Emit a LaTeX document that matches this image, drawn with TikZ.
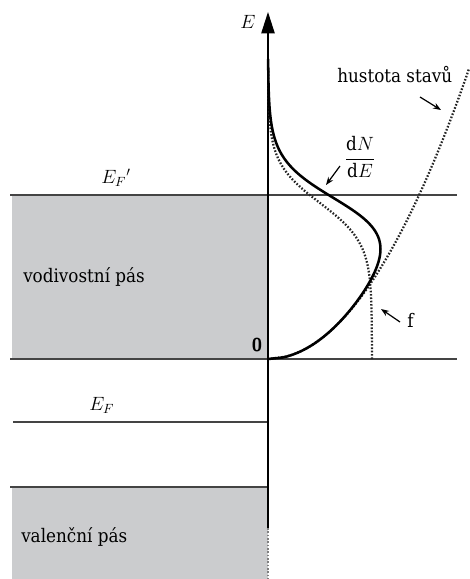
\documentclass[tikz,border=0pt]{standalone}
\usepackage{fontspec}
\setmainfont{DejaVu Serif Condensed}
\usepackage{amsmath}
\usetikzlibrary{arrows.meta}

\definecolor{bandgray}{HTML}{CBCCCE}
\definecolor{linegray}{HTML}{444444}

\begin{document}
\begin{tikzpicture}[x=0.75pt, y=-0.75pt,
  band/.style={fill=bandgray, draw=none},
  level/.style={draw=linegray, line width=1.5pt},
  axis/.style={draw=black, line width=1pt},
  curve/.style={line width=1.9pt, black},
  dots/.style={line width=1.7pt, dash pattern=on 1.2pt off 1.3pt, black!85},
  pointer/.style={-{Stealth[length=6pt,width=4.5pt]}, line width=0.9pt},
  lbl/.style={font=\fontsize{14}{16}\selectfont, inner sep=0pt}
]
  \useasboundingbox (0,0) rectangle (469,579);

  % bands
  \fill[band] (12,195) rectangle (268,359);
  \fill[band] (12,487) rectangle (268,579);

  % levels
  \draw[level] (10,195) -- (457,195);
  \draw[level] (10,359) -- (457,359);
  \draw[level] (13,422) -- (268,422);
  \draw[level] (10,487) -- (268,487);

  % energy axis
  \coordinate (axbot) at (268,528);
  \coordinate (axend) at (268,579);
  \coordinate (axtop) at (268,12);
  \draw[axis, -{Triangle[length=16pt,width=10pt]}] (axbot) -- (axtop);
  \draw[dots, line width=0.8pt, gray] (axbot) -- (axend);

  % density of states, Fermi function, dN/dE
  \draw[dots] plot[domain=0:290, samples=120] ({268+11.8*sqrt(\x)}, {359-\x});
  \draw[dots] plot[domain=0:290, samples=120] ({268+104/(1+exp((\x-156)/20))}, {359-\x});
  \draw[curve] plot[domain=0:300, samples=200, smooth]
    ({268+11.8*sqrt(\x)/(1+exp((\x-156)/20))}, {359-\x});

  % labels
  \node[lbl] (elab) at (248,22) {$E$};
  \node[lbl, anchor=west] (efplab) at (101,178) {$E_F{}'$};
  \node[lbl, anchor=west] (efflab) at (89,405) {$E_F$};
  \node[lbl, anchor=base west] (vod) at (23,282) {vodivostní pás};
  \node[lbl, anchor=base west] (val) at (21,542) {valenční pás};
  \node[lbl] (zero) at (257,345) {\sffamily\bfseries 0};
  \node[lbl, anchor=base west] (hust) at (337,82) {hustota stavů};
  \node[lbl] (dnde) at (360,157) {$\dfrac{\mathrm{d}N}{\mathrm{d}E}$};
  \node[lbl, anchor=base west] (flab) at (407,327) {f};

  % pointers
  \coordinate (hustfrom) at (420,97);
  \coordinate (hustto) at (441,110);
  \coordinate (dnfrom) at (340,166);
  \coordinate (dnto) at (326,185);
  \coordinate (ffrom) at (400,322);
  \coordinate (fto) at (381,309);
  \draw[pointer] (hustfrom) -- (hustto);
  \draw[pointer] (dnfrom) -- (dnto);
  \draw[pointer] (ffrom) -- (fto);
\end{tikzpicture}
\end{document}
